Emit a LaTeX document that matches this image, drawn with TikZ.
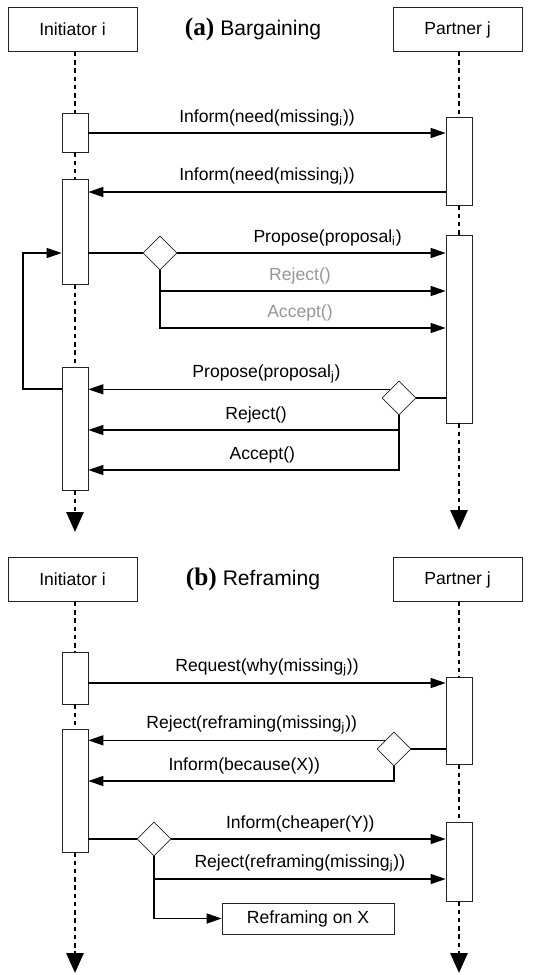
\documentclass[tikz,border=0pt]{standalone}
\usepackage{fontspec}
\setmainfont{Liberation Sans}
\newfontfamily\titleserif{Liberation Serif}
\usetikzlibrary{shapes.geometric, arrows.meta, positioning, calc}
\definecolor{labelgray}{RGB}{150,150,150}
\definecolor{boxline}{RGB}{35,35,35}

\begin{document}
\begin{tikzpicture}[
    x=0.02cm, y=-0.02cm,
    actor/.style={draw=boxline, minimum width=2.58cm, minimum height=0.88cm, inner sep=0, align=center},
    activation/.style={draw=boxline, fill=white, minimum width=0.52cm, inner sep=0},
    choice/.style={draw=boxline, fill=white, diamond, minimum size=0.68cm, inner sep=0},
    heading/.style={font=\large},
    msg/.style={-{Triangle[length=0.3cm, width=0.2cm]}, line width=0.8pt},
    link/.style={line width=0.8pt},
    lifeline/.style={line width=1.7pt, dash pattern=on 2.5pt off 2.2pt},
    lifeend/.style={lifeline, -{Triangle[length=0.4cm, width=0.34cm]}}
]
\useasboundingbox (0,0) rectangle (538,975);

% (a) Bargaining
\node[actor] (ini_a) at (72.5,29.5) {Initiator i};
\node[actor] (par_a) at (457.5,29.5) {Partner j};
\node[heading] (title_a) at (253,29) {{\titleserif\bfseries\Large (a)} Bargaining};

% activations
\node[activation, minimum height=0.78cm] (ia1) at (75,132.5) {};
\node[activation, minimum height=1.76cm] (pa1) at (459,161) {};
\node[activation, minimum height=2.1cm] (ia2) at (75,231.5) {};
\node[activation, minimum height=3.76cm] (pa2) at (459,329) {};
\node[activation, minimum height=2.46cm] (ia3) at (75,428.5) {};

% choices
\node[choice] (dia_a1) at (160,253) {};
\node[choice] (dia_a2) at (399,398) {};

% lifeline ends
\coordinate (ini_a_end) at (75,532);
\coordinate (par_a_end) at (459,530);

% lifelines
\draw[lifeline] (ia1.north |- ini_a.south) -- (ia1.north);
\draw[lifeline] (ia1.south) -- (ia2.north);
\draw[lifeline] (ia2.south) -- (ia3.north);
\draw[lifeend] (ia3.south) -- (ini_a_end);
\draw[lifeline] (pa1.north |- par_a.south) -- (pa1.north);
\draw[lifeline] (pa1.south) -- (pa2.north);
\draw[lifeend] (pa2.south) -- (par_a_end);

% messages
\draw[msg] (ia1.east |- 0,133) -- node[above] {Inform(need(missing\textsubscript{i}))} (pa1.west |- 0,133);
\draw[msg] (pa1.west |- 0,192) -- node[above] {Inform(need(missing\textsubscript{j}))} (ia2.east |- 0,192);
\draw[link] (ia2.east |- dia_a1.west) -- (dia_a1.west);
\draw[msg] (dia_a1.east) -- node[above, pos=0.56] {Propose(proposal\textsubscript{i})} (pa2.west |- dia_a1.east);
\draw[msg] (dia_a1.south) |- node[above, pos=0.745, text=labelgray] {Reject()} (pa2.west |- 0,291);
\draw[msg] (dia_a1.south) |- node[above, pos=0.745, text=labelgray] {Accept()} (pa2.west |- 0,328);
\draw[link] (pa2.west |- dia_a2.east) -- (dia_a2.east);
\draw[msg] (dia_a2.north west) -- node[above, pos=0.41] {Propose(proposal\textsubscript{j})} (ia3.east |- dia_a2.north west);
\draw[msg] (dia_a2.south) |- node[above, pos=0.73] {Reject()} (ia3.east |- 0,430);
\draw[msg] (dia_a2.south) |- node[above, pos=0.72] {Accept()} (ia3.east |- 0,470);
\draw[msg] (ia3.west |- 0,389) -| (23,253) -- (ia2.west |- 0,253);

% (b) Reframing
\node[actor] (ini_b) at (72.5,579.5) {Initiator i};
\node[actor] (par_b) at (457.5,579.5) {Partner j};
\node[heading] (title_b) at (253,579) {{\titleserif\bfseries\Large (b)} Reframing};

% activations
\node[activation, minimum height=1.04cm] (ib1) at (75,678) {};
\node[activation, minimum height=1.74cm] (pb1) at (459,720.5) {};
\node[activation, minimum height=2.46cm] (ib2) at (75,790.5) {};
\node[activation, minimum height=1.58cm] (pb2) at (459,861.5) {};

% choices
\node[choice] (dia_b1) at (394,749) {};
\node[choice] (dia_b2) at (154,839) {};

\node[actor, minimum width=3.44cm, minimum height=0.62cm] (reframe) at (308,918.5) {Reframing on X};

% lifeline ends
\coordinate (ini_b_end) at (75,973);
\coordinate (par_b_end) at (459,973);

% lifelines
\draw[lifeline] (ib1.north |- ini_b.south) -- (ib1.north);
\draw[lifeline] (ib1.south) -- (ib2.north);
\draw[lifeend] (ib2.south) -- (ini_b_end);
\draw[lifeline] (pb1.north |- par_b.south) -- (pb1.north);
\draw[lifeline] (pb1.south) -- (pb2.north);
\draw[lifeend] (pb2.south) -- (par_b_end);

% messages
\draw[msg] (ib1.east |- 0,683) -- node[above] {Request(why(missing\textsubscript{j}))} (pb1.west |- 0,683);
\draw[link] (pb1.west |- dia_b1.east) -- (dia_b1.east);
\draw[msg] (dia_b1.north west) -- node[above, pos=0.45] {Reject(reframing(missing\textsubscript{j}))} (ib2.east |- dia_b1.north west);
\draw[msg] (dia_b1.south) |- node[above, pos=0.745] {Inform(because(X))} (ib2.east |- 0,781);
\draw[link] (ib2.east |- dia_b2.west) -- (dia_b2.west);
\draw[msg] (dia_b2.east) -- node[above, pos=0.47] {Inform(cheaper(Y))} (pb2.west |- dia_b2.east);
\draw[msg] (dia_b2.south) |- node[above, pos=0.75] {Reject(reframing(missing\textsubscript{j}))} (pb2.west |- 0,879);
\draw[msg] (dia_b2.south) |- (reframe.west);

\end{tikzpicture}
\end{document}
